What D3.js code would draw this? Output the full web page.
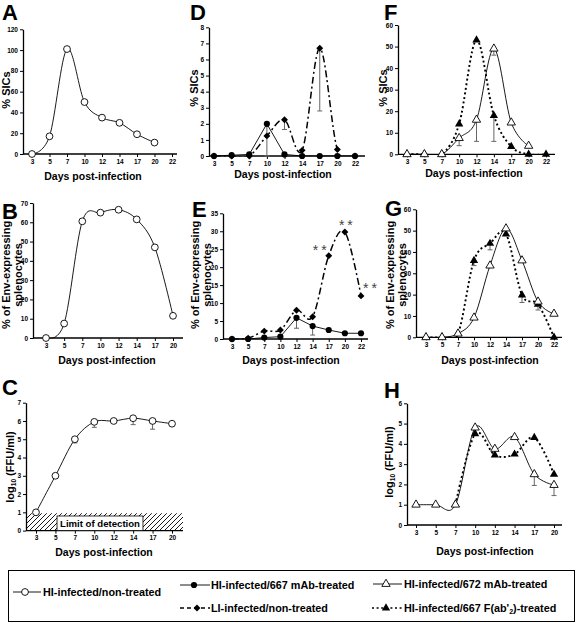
<!DOCTYPE html>
<html><head><meta charset="utf-8">
<script src="https://cdn.jsdelivr.net/npm/d3@7"></script>
<style>
body{margin:0;background:#fff;}
svg{display:block;font-family:"Liberation Sans",Arial,sans-serif;font-weight:bold;}
</style></head><body>
<svg id="c" width="576" height="623"></svg>
<script>
// ---------- categories & ticks ----------
const days9 = ["3","5","7","10","12","14","17","20","22"];
const days8 = ["3","5","7","10","12","14","17","20"];
const yTicksA = [0,20,40,60,80,100,120];
const yTicksB = [0,10,20,30,40,50,60,70];
const yTicksC = [0,1,2,3,4,5,6,7];
const yTicksD = [0,1,2,3,4,5,6,7,8];
const yTicksE = [0,5,10,15,20,25,30,35];
const yTicksF = [0,10,20,30,40,50,60];
const yTicksG = [0,10,20,30,40,50,60];
const yTicksH = [0,1,2,3,4,5,6];

// ---------- series values ----------
// A: % SICs, HI-infected/non-treated
const sicHiNon = [0,17,101,50,35,30,19,11,null];
// B: % Env-expressing splenocytes, HI-infected/non-treated
const envHiNon = [0,7.5,60.5,65,66.5,61.5,47,11.5];
// C: log10 FFU/ml, HI-infected/non-treated
const titerHiNon    = [1,3,5,5.95,6,6.15,6,5.85];
const titerHiNonErr = [0,0,0.2,0.3,0,0.35,0.45,0];
const detectionLimit = 0.95;
// D: % SICs
const sic667    = [0,0.05,0.1,2,0.1,0,0,0,0];
const sic667Err = [0,0,0,2,0,0,0,0,0];
const sicLI     = [0,0,0,1.25,2.25,0.35,6.7,0.4,0];
const sicLIErr  = [0,0,0,0,0.6,0,3.9,0,0];
// E: % Env-expressing splenocytes
const env667    = [0,0,0.4,0.65,5.9,3.6,2.5,1.6,1.6];
const env667Err = [0,0,0,0,2.9,2.5,0,0,0];
const envLI     = [0,0.2,2.2,2.5,8,6.2,23.2,29.8,12];
const envLIStars = ["17","20","22"];
// F: % SICs
const sic672    = [0,0,0,7.5,16,49,14.7,3.9,null];
const sic672Err = [0,0,0,3.5,10,3,0,0,0];
const sicFab    = [0,0,0,14,53,18,3.6,0,0];
const sicFabErr = [0,0,0,0,0,12,0,0,0];
// G: % Env-expressing splenocytes
const env672    = [0,0,1.7,9.2,33.6,51,36,16.7,11];
const envFab    = [0,0,1.7,36,44,48.4,19.8,15.5,0];
const envFabErr = [0,0,0,2.4,3,0,3.5,2.7,0];
// H: log10 FFU/ml
const titer672    = [1,1,1,4.8,3.75,4.33,2.5,1.97];
const titer672Err = [0,0,0,0,0,0,0.55,0.52];
const titerFab    = [null,null,1,4.49,3.45,3.49,4.31,2.5];

// ---------- setup ----------
const svg = d3.select("#c");
const defs = svg.append("defs");
defs.append("pattern").attr("id","hatch").attr("patternUnits","userSpaceOnUse")
  .attr("width",5).attr("height",5)
  .append("path").attr("d","M-1,1L1,-1M0,5L5,0M4,6L6,4")
  .attr("stroke","#000").attr("stroke-width",0.9);

const panels = {
  A:{cats:days9, ticks:yTicksA, ax:23,  x0:32,  x1:172, xe:177, y0:154,   y1:29.3},
  D:{cats:days9, ticks:yTicksD, ax:209, x0:214, x1:355, xe:365, y0:156,   y1:27.3},
  F:{cats:days9, ticks:yTicksF, ax:398, x0:407, x1:546, xe:555, y0:154.3, y1:25},
  B:{cats:days8, ticks:yTicksB, ax:33,  x0:46,  x1:173, xe:183, y0:338,   y1:203},
  E:{cats:days9, ticks:yTicksE, ax:223, x0:232, x1:361, xe:368, y0:339,   y1:213.3},
  G:{cats:days9, ticks:yTicksG, ax:416, x0:426, x1:554, xe:562, y0:337.3, y1:209.3},
  C:{cats:days8, ticks:yTicksC, ax:26,  x0:36,  x1:172, xe:183, y0:530.6, y1:402.7},
  H:{cats:days8, ticks:yTicksH, ax:407, x0:416, x1:554, xe:562, y0:525,   y1:403.3}
};

Object.entries(panels).forEach(([k,p])=>{
  p.x = d3.scalePoint().domain(p.cats).range([p.x0,p.x1]);
  p.y = d3.scaleLinear().domain([0,d3.max(p.ticks)]).range([p.y0,p.y1]);
  p.g = svg.append("g");
  p.under = p.g.append("g");
  defs.append("clipPath").attr("id","clip"+k).append("rect")
    .attr("x",p.ax).attr("y",p.y1-40).attr("width",p.xe-p.ax+15).attr("height",p.y0-p.y1+40.6);
  p.clip = "url(#clip"+k+")";
  // x axis
  const xa = p.g.append("g").attr("transform",`translate(0,${p.y0})`)
    .call(d3.axisBottom(p.x).tickSize(3).tickPadding(2));
  xa.attr("font-family",null).attr("font-size",6.5);
  xa.select(".domain").remove();
  xa.append("line").attr("x1",p.ax).attr("x2",p.xe).attr("stroke","#000").attr("stroke-width",1.3);
  // y axis
  const ya = p.g.append("g").attr("transform",`translate(${p.ax},0)`)
    .call(d3.axisLeft(p.y).tickValues(p.ticks).tickFormat(d3.format("d")).tickSize(3).tickSizeOuter(0).tickPadding(2));
  ya.attr("font-family",null).attr("font-size",6.5);
  ya.select(".domain").attr("stroke-width",1.3);
  p.over = p.g.append("g");
  p.series = p.g.append("g");
  p.marks = p.g.append("g");
});

// ---------- drawing helpers ----------
const lineStyles = {
  solid:{w:0.9, dash:null},
  dashdot:{w:1.5, dash:"7,3,2,3"},
  dotted:{w:1.9, dash:"2,2.6"}
};
function drawLine(p, vals, style, curve){
  const pts = p.cats.map((c,i)=>({c,v:vals[i]})).filter(d=>d.v!=null);
  const ln = d3.line().x(d=>p.x(d.c)).y(d=>p.y(d.v)).curve(curve);
  const s = lineStyles[style];
  p.series.append("path").datum(pts).attr("d",ln).attr("fill","none")
    .attr("stroke","#000").attr("stroke-width",s.w).attr("stroke-dasharray",s.dash)
    .attr("clip-path",p.clip);
}
function drawErr(p, vals, errs){
  p.cats.forEach((c,i)=>{
    if(vals[i]==null || !errs[i]) return;
    const x = p.x(c), ya = p.y(vals[i]), yb = p.y(vals[i]-errs[i]);
    p.series.append("line").attr("x1",x).attr("x2",x).attr("y1",ya).attr("y2",yb)
      .attr("stroke","#666").attr("stroke-width",1);
    p.series.append("line").attr("x1",x-2.5).attr("x2",x+2.5).attr("y1",yb).attr("y2",yb)
      .attr("stroke","#666").attr("stroke-width",1);
  });
}
function marker(sel, type, x, y){
  if(type==="openCircle"){
    sel.append("circle").attr("cx",x).attr("cy",y).attr("r",3.4).attr("fill","#fff").attr("stroke","#000").attr("stroke-width",0.9);
  } else if(type==="filledCircle"){
    sel.append("circle").attr("cx",x).attr("cy",y).attr("r",3.1).attr("fill","#000");
  } else if(type==="diamond"){
    sel.append("path").attr("d",d3.symbol(d3.symbolSquare,24)()).attr("transform",`translate(${x},${y}) rotate(45)`).attr("fill","#000");
  } else if(type==="openTri"){
    sel.append("path").attr("d",d3.symbol(d3.symbolTriangle,30)()).attr("transform",`translate(${x},${y})`).attr("fill","#fff").attr("stroke","#000").attr("stroke-width",0.9);
  } else if(type==="filledTri"){
    sel.append("path").attr("d",d3.symbol(d3.symbolTriangle,30)()).attr("transform",`translate(${x},${y})`).attr("fill","#000");
  }
}
function drawMarkers(p, vals, type){
  p.cats.forEach((c,i)=>{ if(vals[i]!=null) marker(p.marks, type, p.x(c), p.y(vals[i])); });
}
const smooth = d3.curveCardinal.tension(0);

// ---------- panel C hatch ----------
{
  const p = panels.C;
  p.under.append("rect").attr("x",p.ax).attr("width",p.xe-p.ax)
    .attr("y",p.y(detectionLimit)).attr("height",p.y(0)-p.y(detectionLimit)).attr("fill","url(#hatch)");
  const box = p.over.append("rect").attr("y",516).attr("height",p.y0-516)
    .attr("fill","#fff").attr("stroke","#000").attr("stroke-width",0.8);
  const t = p.over.append("text").attr("x",100).attr("y",526.5).attr("text-anchor","middle")
    .attr("font-size",9.6).text("Limit of detection");
  const w = t.node().getComputedTextLength();
  box.attr("x",100-w/2-3).attr("width",w+6);
}

// ---------- series ----------
drawLine(panels.A, sicHiNon, "solid", smooth);
drawMarkers(panels.A, sicHiNon, "openCircle");
drawLine(panels.B, envHiNon, "solid", smooth);
drawMarkers(panels.B, envHiNon, "openCircle");
drawLine(panels.C, titerHiNon, "solid", smooth);
drawErr(panels.C, titerHiNon, titerHiNonErr);
drawMarkers(panels.C, titerHiNon, "openCircle");
drawLine(panels.D, sic667, "solid", d3.curveLinear);
drawLine(panels.D, sicLI, "dashdot", smooth);
drawErr(panels.D, sic667, sic667Err);
drawErr(panels.D, sicLI, sicLIErr);
drawMarkers(panels.D, sic667, "filledCircle");
drawMarkers(panels.D, sicLI, "diamond");
drawLine(panels.E, env667, "solid", d3.curveLinear);
drawLine(panels.E, envLI, "dashdot", smooth);
drawErr(panels.E, env667, env667Err);
drawMarkers(panels.E, envLI, "diamond");
drawMarkers(panels.E, env667, "filledCircle");
{
  const p = panels.E;
  const offs = [[-16,-1],[-6,-2],[2,-3]];
  envLIStars.forEach((d,j)=>{
    const i = p.cats.indexOf(d);
    p.marks.append("text").attr("x",p.x(d)+offs[j][0]).attr("y",p.y(envLI[i])+offs[j][1])
      .attr("font-size",14).attr("font-weight","normal").attr("fill","#444")
      .attr("letter-spacing",3).text("**");
  });
}
drawLine(panels.F, sic672, "solid", smooth);
drawLine(panels.F, sicFab, "dotted", smooth);
drawErr(panels.F, sic672, sic672Err);
drawErr(panels.F, sicFab, sicFabErr);
drawMarkers(panels.F, sicFab, "filledTri");
drawMarkers(panels.F, sic672, "openTri");
drawLine(panels.G, env672, "solid", smooth);
drawLine(panels.G, envFab, "dotted", smooth);
drawErr(panels.G, envFab, envFabErr);
drawMarkers(panels.G, envFab, "filledTri");
drawMarkers(panels.G, env672, "openTri");
drawLine(panels.H, titer672, "solid", smooth);
drawLine(panels.H, titerFab, "dotted", smooth);
drawErr(panels.H, titer672, titer672Err);
drawMarkers(panels.H, titerFab, "filledTri");
drawMarkers(panels.H, titer672, "openTri");

// ---------- labels ----------
const letters = [["A",2,20],["D",190,20],["F",384,20],["B",2,219],["E",192,217],["G",385,216],["C",2,395],["H",384,398]];
letters.forEach(([t,x,y])=>svg.append("text").attr("x",x).attr("y",y).attr("font-size",22).text(t));

const xTitles = [[93,180],[283,178],[474,177],[107,364],[291,364],[490,364],[104,556],[485,555]];
xTitles.forEach(([x,y])=>svg.append("text").attr("x",x).attr("y",y).attr("text-anchor","middle")
  .attr("font-size",10.5).text("Days post-infection"));

function yTitle(x,y,lines){
  lines.forEach((l,j)=>svg.append("text").attr("transform",`translate(${x[j]},${y}) rotate(-90)`)
    .attr("text-anchor","middle").attr("font-size",11).text(l));
}
yTitle([10],90,["% SICs"]);
yTitle([198],88,["% SICs"]);
yTitle([387],88,["% SICs"]);
yTitle([10,22],275,["% of Env-expressing","splenocytes"]);
yTitle([199,211],275,["% of Env-expressing","splenocytes"]);
yTitle([394,406],275,["% of Env-expressing","splenocytes"]);
function logTitle(x,y){
  const t = svg.append("text").attr("transform",`translate(${x},${y}) rotate(-90)`)
    .attr("text-anchor","middle").attr("font-size",11);
  t.append("tspan").text("log");
  t.append("tspan").attr("font-size",6.5).attr("dy",1.5).text("10");
  t.append("tspan").attr("dy",-1.5).text(" (FFU/ml)");
}
logTitle(14,467);
logTitle(393,462);

// ---------- legend ----------
const lg = svg.append("g");
lg.append("rect").attr("x",8.5).attr("y",570.5).attr("width",566).attr("height",51)
  .attr("fill","none").attr("stroke","#000").attr("stroke-width",1);
const legendItems = [
  {label:["HI-infected/non-treated"], marker:"openCircle", style:"solid", lx:[13,41], mx:25, y:592, tx:43},
  {label:["HI-infected/667 mAb-treated"], marker:"filledCircle", style:"solid", lx:[180,210], mx:194, y:585, tx:211},
  {label:["LI-infected/non-treated"], marker:"diamond", style:"dashdot", lx:[180,210], mx:197, y:608, tx:211},
  {label:["HI-infected/672 mAb-treated"], marker:"openTri", style:"solid", lx:[373,402], mx:386, y:584, tx:404},
  {label:["HI-infected/667 F(ab'","2",")-treated"], marker:"filledTri", style:"dotted", lx:[372,402], mx:386, y:608, tx:404}
];
legendItems.forEach(it=>{
  const s = lineStyles[it.style];
  lg.append("line").attr("x1",it.lx[0]).attr("x2",it.lx[1]).attr("y1",it.y).attr("y2",it.y)
    .attr("stroke","#000").attr("stroke-width",Math.min(s.w,1.3)).attr("stroke-dasharray",it.style==="dashdot"?"4,3":s.dash);
  marker(lg, it.marker, it.mx, it.y);
  const t = lg.append("text").attr("x",it.tx).attr("y",it.y+4).attr("font-size",10.8);
  if(it.label.length===1) t.text(it.label[0]);
  else {
    t.append("tspan").text(it.label[0]);
    t.append("tspan").attr("font-size",7).attr("dy",2).text(it.label[1]);
    t.append("tspan").attr("dy",-2).text(it.label[2]);
  }
});
</script>
</body></html>
